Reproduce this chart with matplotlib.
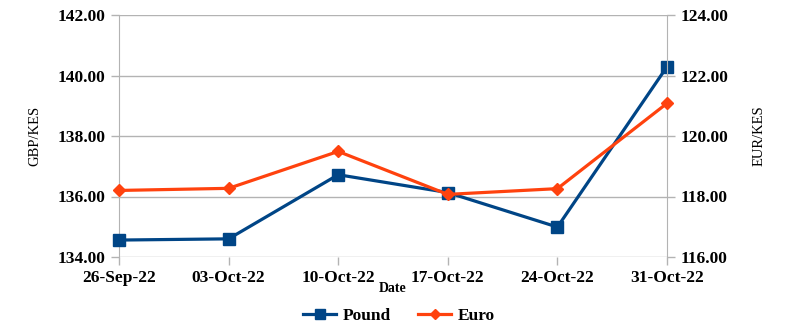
import matplotlib
matplotlib.use("Agg")
import matplotlib.pyplot as plt

dates = ["26-Sep-22", "03-Oct-22", "10-Oct-22", "17-Oct-22", "24-Oct-22", "31-Oct-22"]
pound = [134.56, 134.60, 136.72, 136.13, 134.99, 140.29]
euro = [118.20, 118.27, 119.49, 118.07, 118.26, 121.08]

plt.rcParams['font.family'] = ['Liberation Serif', 'DejaVu Serif']
plt.rcParams['font.weight'] = 'bold'

fig = plt.figure(figsize=(7.87, 3.35), dpi=100)
ax = fig.add_axes([119/787, 1-257/335, (667-119)/787, (257-15)/335])
ax2 = ax.twinx()

x = list(range(len(dates)))
blue = '#004586'
orange = '#ff420e'
grid = '#b3b3b3'

lp, = ax.plot(x, pound, color=blue, lw=2.3, marker='s', ms=9, label='Pound', zorder=3, clip_on=False)
le, = ax2.plot(x, euro, color=orange, lw=2.3, marker='D', ms=6.5, label='Euro', zorder=3, clip_on=False)

ax.set_xlim(0, len(dates)-1)
ax.set_ylim(134, 142)
ax.set_yticks([134, 136, 138, 140, 142])
ax.set_yticklabels([f"{v:.2f}" for v in [134, 136, 138, 140, 142]])
ax2.set_ylim(116, 124)
ax2.set_yticks([116, 118, 120, 122, 124])
ax2.set_yticklabels([f"{v:.2f}" for v in [116, 118, 120, 122, 124]])

ax.set_xticks(x)
ax.set_xticklabels(dates)
ax.yaxis.grid(True, color=grid, lw=1)
ax.set_axisbelow(True)

for a in (ax, ax2):
    for s in ['top', 'bottom']:
        a.spines[s].set_visible(False)
    a.spines['left'].set_color(grid)
    a.spines['right'].set_color(grid)
    a.tick_params(axis='both', colors=grid, labelcolor='black', labelsize=12.5, length=6, width=1)
ax.spines['right'].set_visible(False)
ax2.spines['left'].set_visible(False)
ax.spines['bottom'].set_visible(False)

ax.set_ylabel('GBP/KES', fontsize=10.5, labelpad=12)
ax2.set_ylabel('EUR/KES', fontsize=10.5, labelpad=18)
fig.text(393/787, 1-288/335, 'Date', fontsize=10, ha='center', va='center')

fig.legend(handles=[lp, le], loc='center', bbox_to_anchor=(399/787, 1-316/335), ncol=2,
           frameon=False, fontsize=12.5, handlelength=1.9, handletextpad=0.35,
           columnspacing=1.6, markerscale=0.75)

fig.savefig('out.png', dpi=100)
